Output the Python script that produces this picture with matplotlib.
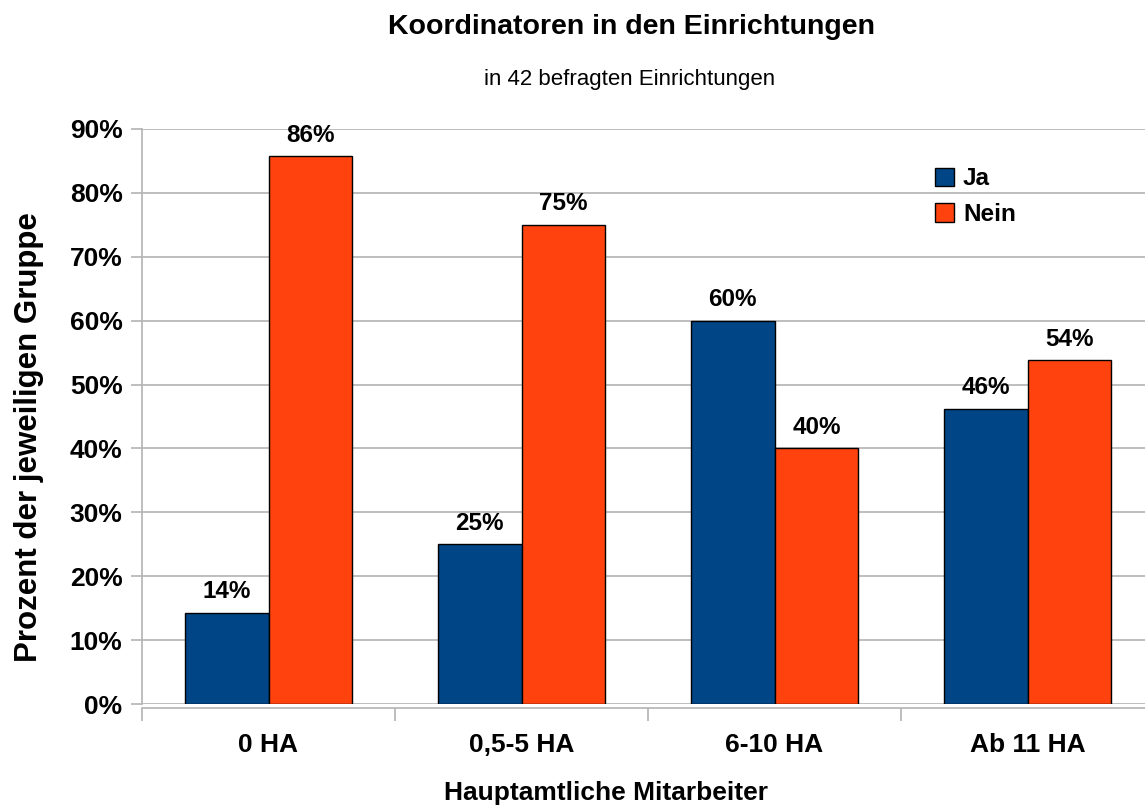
import matplotlib
matplotlib.use("Agg")
import matplotlib.pyplot as plt
import numpy as np

plt.rcParams['font.family'] = ['Liberation Sans', 'DejaVu Sans']

# Daten
kategorien = ["0 HA", "0,5-5 HA", "6-10 HA", "Ab 11 HA"]
ja = [14.3, 25.0, 60.0, 46.2]
nein = [85.7, 75.0, 40.0, 53.8]
ja_labels = ["14%", "25%", "60%", "46%"]
nein_labels = ["86%", "75%", "40%", "54%"]
yticks = [0, 10, 20, 30, 40, 50, 60, 70, 80, 90]

col_ja = "#004586"
col_nein = "#ff420e"
grid_col = "#b3b3b3"

fig = plt.figure(figsize=(11.45, 8.09), dpi=100)
ax = fig.add_axes([142 / 1145, 105 / 809, 1012 / 1145, 575 / 809])

# Achsenlinien zuerst (set_position setzt die Ticks zurück)
for s in ["top", "right"]:
    ax.spines[s].set_visible(False)
ax.spines["left"].set_color(grid_col)
ax.spines["left"].set_linewidth(1.2)
ax.spines["bottom"].set_color(grid_col)
ax.spines["bottom"].set_linewidth(1.2)
ax.spines["bottom"].set_position(("outward", 3))

x = np.arange(len(kategorien))
w = 0.332
b1 = ax.bar(x - w / 2, ja, w, color=col_ja, edgecolor="black", linewidth=1, label="Ja", zorder=3)
b2 = ax.bar(x + w / 2, nein, w, color=col_nein, edgecolor="black", linewidth=1, label="Nein", zorder=3)

for bars, labels in [(b1, ja_labels), (b2, nein_labels)]:
    for rect, lab in zip(bars, labels):
        ax.annotate(lab, (rect.get_x() + rect.get_width() / 2, rect.get_height()),
                    xytext=(0, 7), textcoords="offset points",
                    ha="center", va="bottom", fontsize=17.5, fontweight="bold")

ax.set_xlim(-0.5, 3.5)
ax.set_ylim(0, 90)
ax.yaxis.grid(True, color=grid_col, linewidth=1.2, zorder=0)
ax.set_axisbelow(True)

ax.set_xticks(np.arange(-0.5, 4.0, 1.0), minor=True)
ax.tick_params(axis="x", which="major", length=0, pad=18)
ax.tick_params(axis="x", which="minor", length=9, color=grid_col, width=1.2)
ax.tick_params(axis="y", length=8, color=grid_col, width=1.2, pad=6)

ax.set_xticks(x, kategorien, fontsize=19, fontweight="bold")
ax.set_yticks(yticks, [f"{v}%" for v in yticks], fontsize=19, fontweight="bold")

fig.text(606 / 1145, 1 - 793 / 809, "Hauptamtliche Mitarbeiter",
         ha="center", va="center", fontsize=19, fontweight="bold")
fig.text(29 / 1145, 1 - 437 / 809, "Prozent der jeweiligen Gruppe",
         ha="center", va="center", rotation=90, fontsize=22.5, fontweight="bold")

fig.text(631 / 1145, 1 - 27 / 809, "Koordinatoren in den Einrichtungen",
         ha="center", va="center", fontsize=20.5, fontweight="bold")
fig.text(630 / 1145, 1 - 80 / 809, "in 42 befragten Einrichtungen",
         ha="center", va="center", fontsize=16)

leg = fig.legend(loc="upper left", bbox_to_anchor=(916 / 1145, 1 - 148 / 809),
                 frameon=False, prop={"size": 17.5, "weight": "bold"},
                 handlelength=0.78, handleheight=0.78, handletextpad=0.35,
                 labelspacing=0.51, borderpad=0.3)

fig.savefig("out.png", dpi=100)
